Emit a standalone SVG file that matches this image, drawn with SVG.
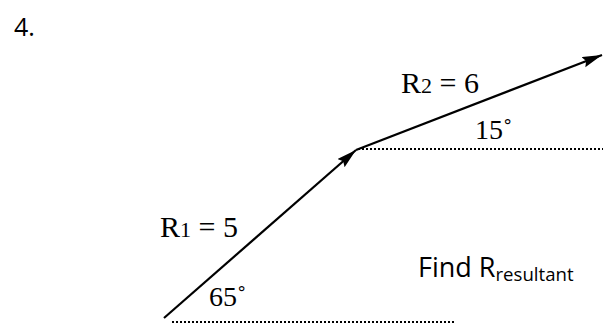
<svg xmlns="http://www.w3.org/2000/svg" width="603" height="325" viewBox="0 0 603 325">
<style>
.serif{font-family:"Liberation Serif","Times New Roman",serif;fill:#000}
.sans{font-family:"Open Sans","Liberation Sans",Arial,sans-serif;fill:#000}
.vec{stroke:#000;stroke-width:2.2;fill:none}
.dot{stroke:#000;stroke-width:2.2;stroke-dasharray:2 2;fill:none}
</style>
<defs>
<marker id="ah" markerUnits="userSpaceOnUse" markerWidth="22" markerHeight="12" refX="20" refY="5.5" orient="auto">
<path d="M0,0 L20,5.5 L0,11 L3,5.5 Z" fill="#000"/>
</marker>
</defs>
<rect width="603" height="325" fill="#fff"/>
<text class="sans" x="14" y="36" font-size="25">4.</text>
<g id="connectors">
<line class="dot" x1="358" y1="149" x2="603" y2="149"/>
<line class="dot" x1="172" y1="322" x2="455" y2="322"/>
<line id="r1" class="vec" x1="164" y1="318" x2="356" y2="150" marker-end="url(#ah)"/>
<line id="r2" class="vec" x1="356" y1="150" x2="602" y2="55" marker-end="url(#ah)"/>
</g>
<g id="label-r1"><text class="serif" x="160" y="237" font-size="30">R<tspan font-size="22">1</tspan> = 5</text></g>
<g id="label-65"><text class="serif" x="209" y="306" font-size="28">65˚</text></g>
<g id="label-r2"><text class="serif" x="401" y="93" font-size="30">R<tspan font-size="22">2</tspan> = 6</text></g>
<g id="label-15"><text class="serif" x="475" y="139" font-size="28">15˚</text></g>
<g id="label-find"><text class="sans" x="418" y="277" font-size="27">Find R<tspan font-size="18.6" dy="4">resultant</tspan></text></g>
</svg>
